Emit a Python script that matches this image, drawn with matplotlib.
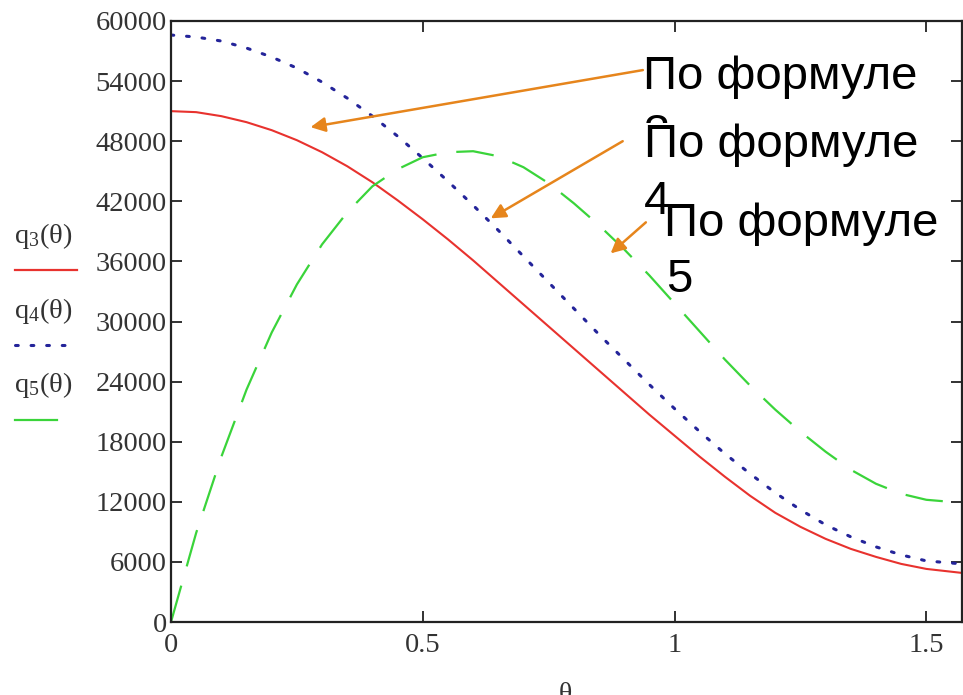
import matplotlib
matplotlib.use("Agg")
import matplotlib.pyplot as plt
from matplotlib.lines import Line2D
import numpy as np

# ---- data ----
theta = [0.0, 0.05, 0.1, 0.15, 0.2, 0.25, 0.3, 0.35, 0.4, 0.45, 0.5, 0.55,
         0.6, 0.65, 0.7, 0.75, 0.8, 0.85, 0.9, 0.95, 1.0, 1.05, 1.1, 1.15,
         1.2, 1.25, 1.3, 1.35, 1.4, 1.45, 1.5, 1.5708]

q3 = [51000, 50900, 50500, 49900, 49100, 48100, 46900, 45500, 43900, 42100,
      40200, 38200, 36100, 33900, 31700, 29500, 27300, 25100, 22900, 20700,
      18600, 16500, 14500, 12600, 10900, 9500, 8300, 7300, 6500, 5800,
      5300, 4900]

q4 = [58600, 58400, 58000, 57300, 56400, 55300, 53900, 52300, 50500, 48500,
      46300, 44000, 41600, 39100, 36500, 33900, 31300, 28700, 26200, 23700,
      21300, 19000, 16800, 14800, 12900, 11200, 9700, 8500, 7500, 6700,
      6100, 5800]

q5 = [0, 8900, 16500, 23200, 28900, 33700, 37700, 40900, 43500, 45200,
      46400, 46900, 47000, 46500, 45400, 43800, 41800, 39600, 37200, 34600,
      31800, 29000, 26200, 23600, 21200, 19000, 17000, 15200, 13800, 12800,
      12200, 11900]

x_ticks = [0, 0.5, 1, 1.5]
x_tick_labels = ["0", "0.5", "1", "1.5"]
y_ticks = list(range(0, 60001, 6000))
y_tick_labels = [str(v) for v in y_ticks]

RED = "#e8322e"
BLUE = "#24249a"
GREEN = "#3ad43a"
ORANGE = "#e6851c"
TXT = "#333333"

SERIF = "Liberation Serif"
SANS = "Liberation Sans"

plt.rcParams["mathtext.fontset"] = "custom"
plt.rcParams["mathtext.rm"] = SERIF
plt.rcParams["mathtext.it"] = SERIF + ":italic"

W, H = 963, 695
fig = plt.figure(figsize=(W / 100, H / 100), dpi=100)
fig.patch.set_facecolor("white")

# axes box in pixels: left 171, right 962, top 21, bottom 622
ax = fig.add_axes([171 / W, 1 - 622 / H, (962 - 171) / W, (622 - 21) / H])

DOT = (0, (0.9, 4.2))
ax.plot(theta, q3, color=RED, lw=1.5)
ax.plot(theta, q4, color=BLUE, lw=2.2, linestyle=DOT, dash_capstyle="round")
ax.plot(theta, q5, color=GREEN, lw=1.6, linestyle=(0, (17, 9)))

ax.set_xlim(0, np.pi / 2)
ax.set_ylim(0, 60000)
ax.set_xticks(x_ticks)
ax.set_xticklabels(x_tick_labels)
ax.set_yticks(y_ticks)
ax.set_yticklabels(y_tick_labels)

ax.tick_params(direction="in", length=8, width=1.3, color="#222222",
               top=True, right=True, labelsize=20.5, labelcolor=TXT)
ax.tick_params(axis="x", pad=8)
ax.tick_params(axis="y", pad=3)
for lab in ax.get_xticklabels() + ax.get_yticklabels():
    lab.set_fontfamily(SERIF)
for sp in ax.spines.values():
    sp.set_linewidth(1.6)
    sp.set_color("#222222")

# ---- annotations (arrows from captions to curves) ----
arrows = [((0.277, 49400), (0.937, 55100)),
          ((0.635, 40300), (0.897, 48000)),
          ((0.873, 36800), (0.943, 39900))]
for head, tail in arrows:
    ax.annotate("", xy=head, xytext=tail,
                arrowprops=dict(arrowstyle="-|>", color=ORANGE, lw=1.8,
                                mutation_scale=22, shrinkA=0, shrinkB=0))

captions = ["По формуле", "По формуле", "По формуле"]
numbers = ["3", "4", "5"]
cap_pos = [(0.937, 53200), (0.939, 46400), (0.979, 38500)]
num_pos = [(0.937, 47400), (0.939, 40700), (0.983, 32900)]
for i, (cap, num) in enumerate(zip(captions, numbers)):
    ax.text(*num_pos[i], num, fontsize=34, family=SANS, color="black",
            va="baseline", ha="left", zorder=5 + 2 * i)
    bbox = dict(facecolor="white", edgecolor="none", pad=0) if i == 1 else None
    ax.text(*cap_pos[i], cap, fontsize=34, family=SANS, color="black",
            va="baseline", ha="left", zorder=6 + 2 * i, bbox=bbox)

# ---- MathCAD-style legend on the left ----
legend_items = [(r"q$_3$(θ)", RED, "-", 236, 270, 77),
                (r"q$_4$(θ)", BLUE, DOT, 311, 345, 65),
                (r"q$_5$(θ)", GREEN, "-", 385, 420, 57)]
for label, col, ls, ty, ly, lx in legend_items:
    fig.text(14 / W, 1 - ty / H, label, fontsize=20.5, family=SERIF,
             color=TXT, va="center", ha="left")
    fig.add_artist(Line2D([15 / W, lx / W], [1 - ly / H, 1 - ly / H],
                          color=col, lw=2.2 if col == BLUE else 1.6,
                          linestyle=ls, dash_capstyle="round",
                          transform=fig.transFigure))

# axis variable, cut off at the bottom edge (as in the reference)
fig.text(565 / W, 1 - 682 / H, "θ", fontsize=20, family=SERIF, color=TXT,
         ha="center", va="top")

fig.savefig("out.png", dpi=100, facecolor="white")
